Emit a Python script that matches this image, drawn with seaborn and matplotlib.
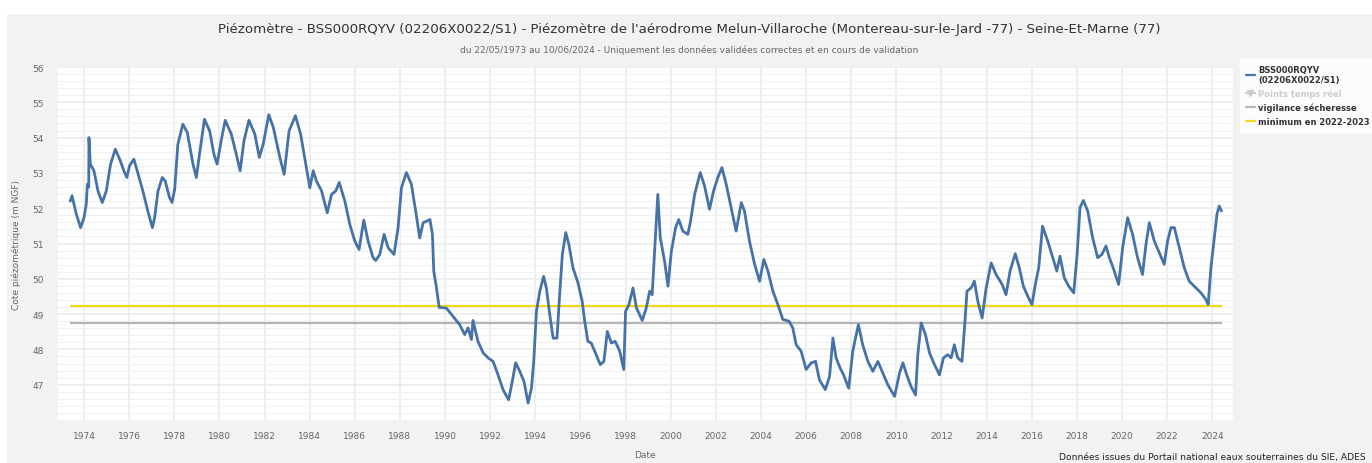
import matplotlib
matplotlib.use("Agg")
import matplotlib.pyplot as plt
import matplotlib.dates as mdates
from matplotlib.lines import Line2D
from matplotlib.ticker import MultipleLocator
import seaborn as sns
import pandas as pd
import numpy as np

# Niveau piézométrique (année décimale, m NGF)
years = [
    1973.39, 1973.47, 1973.66, 1973.85, 1974.0, 1974.10, 1974.15, 1974.21, 1974.22, 1974.28,
    1974.44, 1974.62, 1974.81, 1974.99, 1975.18, 1975.39, 1975.58, 1975.80, 1975.90, 1976.02,
    1976.21, 1976.32, 1976.61, 1976.83, 1977.03, 1977.13, 1977.28, 1977.47, 1977.60, 1977.79,
    1977.90, 1978.02, 1978.16, 1978.38, 1978.58, 1978.83, 1978.98, 1979.12, 1979.34, 1979.57,
    1979.76, 1979.90, 1980.08, 1980.26, 1980.53, 1980.75, 1980.92, 1981.09, 1981.31, 1981.57,
    1981.77, 1981.94, 1982.19, 1982.39, 1982.68, 1982.87, 1983.09, 1983.37, 1983.60, 1983.83,
    1984.01, 1984.16, 1984.30, 1984.53, 1984.78, 1984.97, 1985.16, 1985.31, 1985.56, 1985.78,
    1986.00, 1986.19, 1986.30, 1986.40, 1986.59, 1986.81, 1986.93, 1987.11, 1987.30, 1987.48,
    1987.74, 1987.92, 1988.07, 1988.29, 1988.51, 1988.70, 1988.88, 1989.03, 1989.21, 1989.33,
    1989.44, 1989.50, 1989.62, 1989.74, 1990.06, 1990.65, 1990.87, 1991.02, 1991.17, 1991.24,
    1991.46, 1991.69, 1991.91, 1992.13, 1992.35, 1992.57, 1992.82, 1992.98, 1993.13, 1993.31,
    1993.50, 1993.68, 1993.83, 1993.93, 1994.05, 1994.20, 1994.37, 1994.49, 1994.64, 1994.79,
    1994.96, 1995.08, 1995.20, 1995.35, 1995.49, 1995.67, 1995.89, 1996.08, 1996.19, 1996.33,
    1996.48, 1996.70, 1996.88, 1997.04, 1997.19, 1997.37, 1997.54, 1997.74, 1997.92, 1998.00,
    1998.15, 1998.33, 1998.48, 1998.74, 1998.92, 1999.07, 1999.18, 1999.33, 1999.43, 1999.54,
    1999.73, 1999.88, 2000.03, 2000.22, 2000.36, 2000.54, 2000.76, 2000.87, 2001.06, 2001.31,
    2001.50, 2001.72, 2001.90, 2002.09, 2002.27, 2002.46, 2002.68, 2002.90, 2003.13, 2003.27,
    2003.49, 2003.72, 2003.94, 2004.13, 2004.31, 2004.53, 2004.75, 2004.97, 2005.24, 2005.41,
    2005.56, 2005.78, 2006.00, 2006.23, 2006.42, 2006.59, 2006.85, 2007.04, 2007.19, 2007.33,
    2007.51, 2007.66, 2007.89, 2008.07, 2008.32, 2008.51, 2008.74, 2008.96, 2009.18, 2009.40,
    2009.62, 2009.92, 2010.14, 2010.29, 2010.46, 2010.65, 2010.85, 2010.95, 2011.10, 2011.29,
    2011.47, 2011.69, 2011.91, 2012.09, 2012.28, 2012.43, 2012.57, 2012.72, 2012.91, 2013.02,
    2013.13, 2013.31, 2013.46, 2013.61, 2013.80, 2013.98, 2014.20, 2014.42, 2014.69, 2014.86,
    2015.04, 2015.27, 2015.45, 2015.63, 2015.82, 2016.01, 2016.16, 2016.31, 2016.48, 2016.71,
    2016.93, 2017.11, 2017.25, 2017.44, 2017.64, 2017.86, 2018.01, 2018.14, 2018.29, 2018.48,
    2018.70, 2018.92, 2019.11, 2019.29, 2019.44, 2019.61, 2019.85, 2020.03, 2020.25, 2020.47,
    2020.69, 2020.91, 2021.06, 2021.21, 2021.43, 2021.65, 2021.87, 2022.02, 2022.17, 2022.32,
    2022.54, 2022.76, 2022.98, 2023.28, 2023.50, 2023.72, 2023.82, 2023.94, 2024.09, 2024.21,
    2024.31, 2024.41,
]
levels = [
    52.20, 52.35, 51.83, 51.45, 51.73, 52.11, 52.68, 52.60, 54.00, 53.25,
    53.06, 52.49, 52.16, 52.49, 53.25, 53.67, 53.39, 53.01, 52.87, 53.20,
    53.39, 53.15, 52.49, 51.92, 51.45, 51.73, 52.49, 52.87, 52.77, 52.30,
    52.16, 52.54, 53.81, 54.38, 54.14, 53.25, 52.87, 53.53, 54.52, 54.19,
    53.53, 53.25, 53.91, 54.49, 54.10, 53.53, 53.06, 53.91, 54.49, 54.10,
    53.44, 53.81, 54.65, 54.29, 53.44, 52.96, 54.19, 54.62, 54.10, 53.25,
    52.58, 53.06, 52.77, 52.49, 51.87, 52.39, 52.49, 52.73, 52.20, 51.54,
    51.07, 50.83, 51.26, 51.66, 51.07, 50.60, 50.52, 50.69, 51.26, 50.88,
    50.69, 51.45, 52.58, 53.01, 52.68, 51.92, 51.16, 51.59, 51.64, 51.68,
    51.26, 50.22, 49.74, 49.19, 49.17, 48.70, 48.42, 48.61, 48.28, 48.82,
    48.23, 47.90, 47.76, 47.66, 47.28, 46.86, 46.57, 47.09, 47.62, 47.38,
    47.09, 46.48, 46.90, 47.66, 49.08, 49.65, 50.07, 49.74, 48.99, 48.32,
    48.32, 49.55, 50.69, 51.31, 50.97, 50.31, 49.89, 49.36, 48.80, 48.23,
    48.18, 47.85, 47.57, 47.66, 48.51, 48.18, 48.23, 47.95, 47.43, 49.08,
    49.27, 49.74, 49.18, 48.82, 49.18, 49.65, 49.55, 51.26, 52.39, 51.16,
    50.50, 49.79, 50.78, 51.45, 51.68, 51.35, 51.26, 51.59, 52.39, 53.01,
    52.63, 51.97, 52.49, 52.87, 53.15, 52.68, 52.02, 51.35, 52.16, 51.92,
    51.07, 50.41, 49.93, 50.55, 50.22, 49.65, 49.27, 48.85, 48.80, 48.61,
    48.13, 47.95, 47.43, 47.62, 47.66, 47.14, 46.86, 47.23, 48.32, 47.76,
    47.47, 47.28, 46.90, 47.95, 48.70, 48.13, 47.66, 47.38, 47.66, 47.33,
    47.00, 46.67, 47.33, 47.62, 47.28, 46.95, 46.71, 47.85, 48.75, 48.42,
    47.90, 47.57, 47.28, 47.76, 47.85, 47.76, 48.13, 47.76, 47.66, 48.61,
    49.65, 49.74, 49.93, 49.36, 48.89, 49.74, 50.45, 50.12, 49.84, 49.55,
    50.22, 50.71, 50.31, 49.79, 49.51, 49.27, 49.84, 50.31, 51.49, 51.07,
    50.60, 50.22, 50.64, 50.03, 49.79, 49.60, 50.69, 52.02, 52.22, 51.92,
    51.16, 50.60, 50.69, 50.93, 50.60, 50.31, 49.84, 50.88, 51.73, 51.26,
    50.60, 50.12, 50.97, 51.59, 51.07, 50.74, 50.41, 51.07, 51.45, 51.45,
    50.88, 50.31, 49.93, 49.74, 49.60, 49.41, 49.27, 50.31, 51.16, 51.83,
    52.06, 51.92,
]

vigilance_level = 48.76
minimum_2022_2023 = 49.24
start_year, end_year = 1973.39, 2024.44
tick_years = list(range(1974, 2025, 2))


def to_date(y):
    year = int(np.floor(y))
    return pd.Timestamp(year=year, month=1, day=1) + pd.Timedelta(days=(y - year) * 365.25)


df = pd.DataFrame({"date": [to_date(y) for y in years], "level": levels})

sns.set_theme(style="white")
plt.rcParams["font.family"] = ["DejaVu Sans"]

fig = plt.figure(figsize=(13.72, 4.64), dpi=100)
fig.patch.set_facecolor("white")
# panneau gris de fond (derrière les axes)
bg = plt.Rectangle((7 / 1372, 0), 1, 1 - 15 / 464, transform=fig.transFigure,
                   facecolor="#f2f2f2", edgecolor="none", zorder=-10)
fig.add_artist(bg)

ax = fig.add_axes([58 / 1372, 1 - 421 / 464, (1233 - 58) / 1372, (421 - 68) / 464])
ax.set_zorder(1)
ax.set_facecolor("white")

blue = "#4572a7"
yellow = "#f3d71b"
grey = "#b5b5b5"

ax.hlines(minimum_2022_2023, to_date(start_year), to_date(end_year), color=yellow, lw=1.6, zorder=3)
ax.hlines(vigilance_level, to_date(start_year), to_date(end_year), color=grey, lw=1.6, zorder=3)
sns.lineplot(data=df, x="date", y="level", color=blue, lw=2.0, ax=ax, zorder=4)

ax.set_ylim(46, 56)
ax.set_xlim(to_date(1972.85), to_date(2024.92))
ax.set_yticks(range(47, 57))
ax.yaxis.set_minor_locator(MultipleLocator(0.2))
ax.set_xticks([pd.Timestamp(year=y, month=1, day=1) for y in tick_years])
ax.xaxis.set_major_formatter(mdates.DateFormatter("%Y"))
ax.grid(True, which="major", color="#e9e9e9", lw=1.1)
ax.grid(True, which="minor", axis="y", color="#f1f1f1", lw=0.8)
ax.set_axisbelow(True)
for s in ax.spines.values():
    s.set_visible(False)
ax.tick_params(axis="both", which="both", length=0, labelsize=6.5, labelcolor="#666666")
ax.tick_params(axis="x", pad=8)
ax.tick_params(axis="y", pad=10)
ax.set_xlabel("Date", fontsize=6.5, color="#666666")
ax.set_ylabel("Cote piézométrique (m NGF)", fontsize=6.5, color="#666666", labelpad=8)
ax.xaxis.set_label_coords((645 - 58) / (1233 - 58), -0.085)

fig.text(689 / 1372, 1 - 29 / 464,
         "Piézomètre - BSS000RQYV (02206X0022/S1) - Piézomètre de l'aérodrome Melun-Villaroche "
         "(Montereau-sur-le-Jard -77) - Seine-Et-Marne (77)",
         ha="center", va="center", fontsize=9.6, color="#333333")
fig.text(689 / 1372, 1 - 50 / 464,
         "du 22/05/1973 au 10/06/2024 - Uniquement les données validées correctes et en cours de validation",
         ha="center", va="center", fontsize=6.5, color="#666666")
fig.text(1366 / 1372, 2 / 464,
         "Données issues du Portail national eaux souterraines du SIE, ADES",
         ha="right", va="bottom", fontsize=6.6, color="#222222")

handles = [
    Line2D([], [], color=blue, lw=1.6),
    Line2D([], [], color="#cccccc", lw=1.6, marker="v", markersize=4),
    Line2D([], [], color=grey, lw=1.6),
    Line2D([], [], color=yellow, lw=1.6),
]
labels = ["BSS000RQYV\n(02206X0022/S1)", "Points temps réel", "vigilance sécheresse", "minimum en 2022-2023"]
leg = fig.legend(handles, labels, loc="upper left", bbox_to_anchor=(1240 / 1372, 1 - 60 / 464),
                 fontsize=6.0, frameon=True, handlelength=1.1, handletextpad=0.4,
                 labelspacing=0.55, borderpad=0.7, borderaxespad=0)
leg.get_frame().set_facecolor("white")
leg.get_frame().set_edgecolor("white")
leg.get_frame().set_boxstyle("square", pad=0)
for t in leg.get_texts():
    t.set_fontweight("bold")
    t.set_color("#333333")
leg.get_texts()[1].set_color("#cccccc")

fig.savefig("out.png", dpi=100)
